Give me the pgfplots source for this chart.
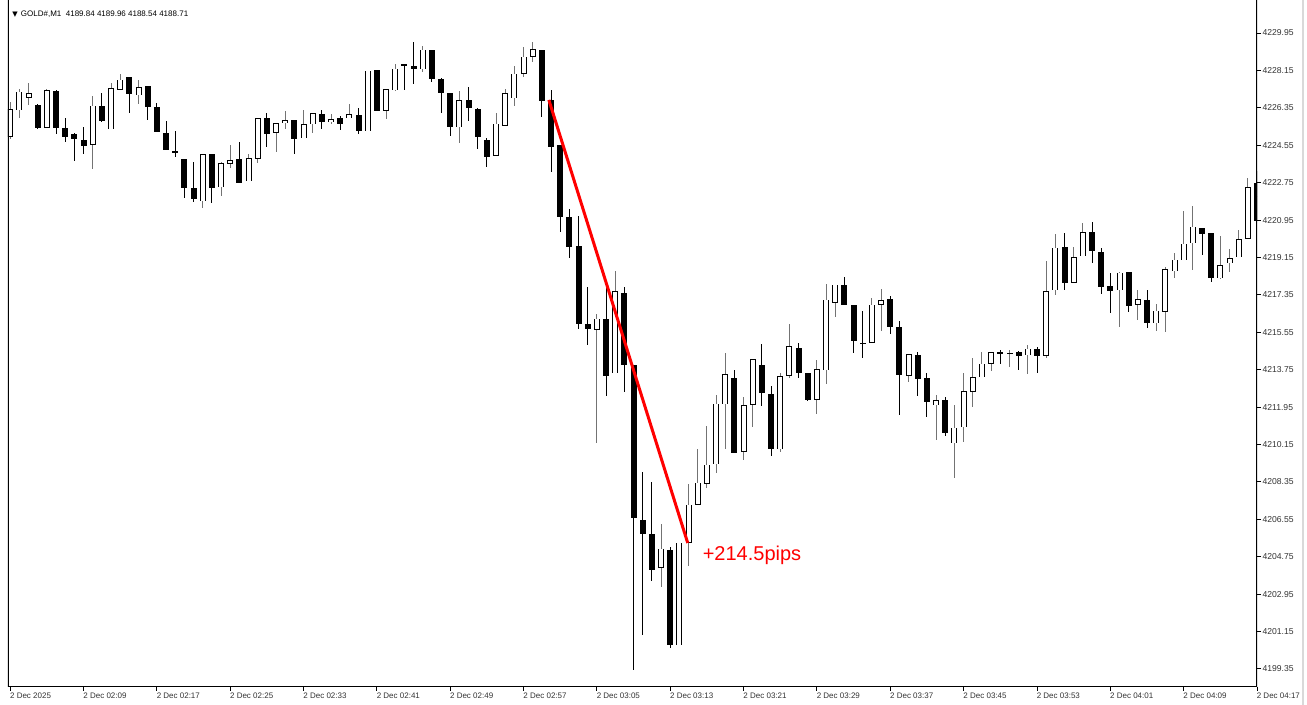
\documentclass[border=0pt]{standalone}
\usepackage{pgfplots}
\pgfplotsset{compat=1.18}
\usepackage{pgfplotstable}
\usepackage{fontspec}
\setmainfont{Liberation Sans}
\newfontfamily\dejavu{DejaVu Sans}

\pgfplotstableread{
t o h l c
0 4224.96 4226.64 4224.88 4226.28
1 4226.24 4227.29 4225.85 4227.13
2 4226.84 4227.58 4226.49 4227.05
3 4226.49 4226.52 4225.33 4225.39
4 4225.39 4227.26 4225.39 4227.19
5 4227.17 4227.21 4225.12 4225.39
6 4225.41 4225.85 4224.72 4224.96
7 4225.08 4225.17 4223.79 4224.84
8 4224.84 4225.44 4224.13 4224.53
9 4224.58 4226.92 4223.44 4226.45
10 4226.47 4227.05 4225.65 4225.75
11 4225.32 4227.56 4225.32 4227.29
12 4227.24 4227.99 4227.21 4227.70
13 4227.83 4227.83 4226.14 4227.03
14 4226.95 4227.69 4226.53 4227.34
15 4227.39 4227.39 4225.76 4226.39
16 4226.39 4226.58 4225.20 4225.20
17 4225.17 4225.72 4224.35 4224.35
18 4224.27 4225.25 4224.00 4224.19
19 4223.87 4223.87 4222.03 4222.51
20 4222.49 4223.76 4221.80 4221.96
21 4221.85 4224.11 4221.56 4224.11
22 4224.14 4224.14 4221.80 4222.51
23 4222.53 4223.76 4222.12 4223.68
24 4223.68 4224.59 4223.44 4223.84
25 4223.92 4224.69 4222.72 4222.72
26 4222.83 4224.13 4222.83 4223.92
27 4223.92 4225.89 4223.68 4225.87
28 4225.85 4226.13 4224.48 4225.08
29 4225.17 4225.63 4224.24 4225.63
30 4225.60 4226.21 4225.33 4225.76
31 4225.75 4225.75 4224.11 4224.85
32 4224.88 4226.24 4224.88 4225.56
33 4225.57 4226.09 4225.12 4226.09
34 4226.04 4226.24 4225.33 4225.65
35 4225.65 4226.09 4225.60 4225.80
36 4225.85 4225.96 4225.28 4225.56
37 4225.85 4226.53 4225.85 4226.04
38 4226.02 4226.36 4225.08 4225.25
39 4225.22 4228.15 4225.22 4228.15
40 4228.18 4228.18 4226.21 4226.21
41 4226.21 4227.24 4225.80 4227.24
42 4227.22 4228.49 4227.16 4228.25
43 4228.44 4228.44 4227.19 4228.36
44 4228.38 4229.53 4227.53 4228.25
45 4228.22 4229.32 4228.09 4229.17
46 4229.13 4229.13 4227.61 4227.77
47 4227.77 4227.78 4226.09 4227.05
48 4227.05 4227.05 4225.01 4225.44
49 4225.41 4227.17 4224.67 4226.71
50 4226.71 4227.34 4225.73 4226.36
51 4226.33 4226.33 4224.37 4224.96
52 4224.80 4224.93 4223.52 4223.98
53 4224.04 4226.12 4224.04 4225.59
54 4225.49 4227.29 4225.49 4227.05
55 4226.81 4228.38 4226.45 4228.01
56 4228.01 4229.29 4227.82 4228.83
57 4228.81 4229.50 4228.57 4229.18
58 4229.15 4229.15 4225.92 4226.69
59 4226.75 4227.22 4223.27 4224.48
60 4224.56 4224.56 4220.36 4221.10
61 4221.10 4221.48 4219.16 4219.68
62 4219.68 4221.15 4215.72 4215.96
63 4215.98 4217.75 4214.93 4215.72
64 4215.69 4216.42 4210.24 4216.22
65 4216.18 4217.75 4212.48 4213.46
66 4213.59 4218.48 4213.59 4217.54
67 4217.43 4217.75 4212.68 4213.97
68 4213.97 4213.97 4199.30 4206.61
69 4206.52 4208.82 4201.00 4205.84
70 4205.84 4208.36 4203.58 4204.13
71 4204.22 4206.34 4203.30 4205.14
72 4205.08 4205.23 4200.35 4200.50
73 4200.50 4205.42 4200.50 4205.42
74 4205.42 4208.27 4204.31 4207.26
75 4207.26 4209.96 4207.26 4208.30
76 4208.27 4211.07 4208.08 4209.19
77 4209.21 4212.53 4208.81 4212.13
78 4212.08 4214.54 4209.93 4213.53
79 4213.38 4213.73 4209.77 4209.77
80 4209.80 4212.42 4209.43 4212.05
81 4212.05 4214.25 4211.00 4214.25
82 4213.97 4214.98 4212.00 4212.61
83 4212.61 4212.98 4209.60 4209.93
84 4209.92 4213.57 4209.80 4213.44
85 4213.48 4215.98 4213.36 4214.89
86 4214.81 4215.05 4213.33 4213.62
87 4213.60 4213.60 4212.24 4212.29
88 4212.32 4214.21 4211.65 4213.78
89 4213.73 4217.90 4213.09 4217.14
90 4216.99 4217.84 4216.30 4217.84
91 4217.82 4218.22 4216.86 4216.86
92 4216.86 4216.86 4214.58 4215.16
93 4215.07 4216.59 4214.30 4214.98
94 4215.05 4217.23 4215.05 4216.89
95 4216.89 4217.66 4215.61 4217.09
96 4217.15 4217.29 4215.50 4215.82
97 4215.80 4216.09 4211.56 4213.49
98 4213.46 4214.49 4213.17 4214.49
99 4214.49 4214.61 4212.48 4213.30
100 4213.36 4213.60 4211.49 4212.21
101 4212.05 4212.53 4210.36 4212.29
102 4212.29 4212.45 4210.57 4210.69
103 4210.23 4212.05 4208.52 4210.97
104 4211.00 4213.62 4210.28 4212.72
105 4212.69 4214.30 4211.97 4213.40
106 4213.38 4214.61 4213.38 4214.05
107 4214.05 4214.61 4213.70 4214.60
108 4214.61 4214.70 4214.05 4214.54
109 4214.54 4214.70 4213.89 4214.58
110 4214.60 4214.66 4213.73 4214.42
111 4214.44 4214.94 4213.57 4214.76
112 4214.76 4214.85 4213.60 4214.41
113 4214.42 4218.98 4214.30 4217.53
114 4217.58 4220.27 4217.37 4219.62
115 4219.65 4220.36 4217.58 4217.93
116 4217.93 4219.67 4217.93 4219.16
117 4219.22 4220.79 4219.22 4220.36
118 4220.36 4220.84 4218.87 4219.47
119 4219.40 4219.59 4217.37 4217.74
120 4217.79 4218.39 4216.51 4217.53
121 4217.58 4218.43 4215.81 4218.43
122 4218.46 4218.46 4216.54 4216.83
123 4216.86 4217.58 4216.14 4217.13
124 4217.10 4217.58 4215.77 4215.98
125 4215.98 4216.91 4215.63 4216.59
126 4216.54 4218.70 4215.58 4218.59
127 4218.50 4219.38 4218.15 4219.06
128 4219.03 4221.38 4219.03 4219.83
129 4219.83 4221.64 4218.55 4220.63
130 4220.60 4220.60 4219.27 4220.28
131 4220.34 4220.34 4217.98 4218.15
132 4218.15 4220.20 4218.15 4218.77
133 4218.87 4219.56 4218.46 4219.11
134 4219.18 4220.47 4219.18 4220.05
135 4220.07 4222.99 4220.07 4222.55
136 4222.72 4223.31 4220.90 4220.90
}\candles

\newcommand\xlbl{\fontsize{4.0}{4.8}\selectfont}
\newcommand\ylbl{\fontsize{4.3}{5.2}\selectfont}

\begin{document}
\begin{tikzpicture}
\path[use as bounding box] (-4pt,-9pt) rectangle (649.5pt,343.5pt);
\begin{axis}[
  at={(0,0)}, anchor=south west,
  scale only axis, width=624.5pt, height=343.5pt,
  xmin=-0.25, xmax=136, ymin=4198.48, ymax=4231.54,
  axis line style={draw=none},
  clip=true,
  tick align=outside,
  major tick length=2pt,
  tick style={black, line width=0.5pt},
  xtick pos=bottom, ytick pos=right,
  yticklabel pos=right,
  xtick={0,8,...,136},
  xticklabels={2 Dec 2025,2 Dec 02:09,2 Dec 02:17,2 Dec 02:25,2 Dec 02:33,2 Dec 02:41,2 Dec 02:49,2 Dec 02:57,2 Dec 03:05,2 Dec 03:13,2 Dec 03:21,2 Dec 03:29,2 Dec 03:37,2 Dec 03:45,2 Dec 03:53,2 Dec 04:01,2 Dec 04:09,2 Dec 04:17},
  ytick={4199.35,4201.15,4202.95,4204.75,4206.55,4208.35,4210.15,4211.95,4213.75,4215.55,4217.35,4219.15,4220.95,4222.75,4224.55,4226.35,4228.15,4229.95},
  yticklabels={4199.35,4201.15,4202.95,4204.75,4206.55,4208.35,4210.15,4211.95,4213.75,4215.55,4217.35,4219.15,4220.95,4222.75,4224.55,4226.35,4228.15,4229.95},
  xticklabel style={font=\xlbl, anchor=north west, inner sep=0pt, yshift=-0.9pt, xshift=-0.3pt, text=black!80},
  yticklabel style={font=\ylbl, anchor=west, inner sep=0pt, xshift=0.6pt, text=black!80},
]
% wicks (bull)
\addplot[draw=none, mark=none, error bars/.cd, y dir=both, y explicit, error mark=none,
  error bar style={draw=black!55, line width=0.5pt}]
  table[x=t, y expr=(\thisrow{h}+\thisrow{l})/2, y error expr={(\thisrow{c}>\thisrow{o})*(\thisrow{h}-\thisrow{l})/2}] {\candles};
% wicks (bear)
\addplot[draw=none, mark=none, error bars/.cd, y dir=both, y explicit, error mark=none,
  error bar style={draw=black, line width=0.5pt}]
  table[x=t, y expr=(\thisrow{h}+\thisrow{l})/2, y error expr={(\thisrow{c}<=\thisrow{o})*(\thisrow{h}-\thisrow{l})/2}] {\candles};
% bodies (outline / filled)
\addplot[draw=none, mark=none, error bars/.cd, y dir=both, y explicit, error mark=none,
  error bar style={draw=black, line width=3pt}]
  table[x=t, y expr=(\thisrow{o}+\thisrow{c})/2, y error expr={max(abs(\thisrow{o}-\thisrow{c})/2,0.025)}] {\candles};
% bodies white inside (bull)
\addplot[draw=none, mark=none, error bars/.cd, y dir=both, y explicit, error mark=none,
  error bar style={draw=white, line width=2pt}]
  table[x=t, y expr=(\thisrow{o}+\thisrow{c})/2, y error expr={(\thisrow{c}>\thisrow{o})*max((\thisrow{c}-\thisrow{o})/2-0.024,0)}] {\candles};
% red trend line
\addplot[red, line width=1.5pt, mark=none] coordinates {(58.75,4226.73) (73.9,4205.41)};
\node[anchor=west, inner sep=0pt, text=red, font=\fontsize{10}{12}\selectfont] at (axis cs:75.5,4204.83) {+214.5pips};
% frame
\draw[black, line width=0.6pt] (rel axis cs:0,1) -- (rel axis cs:0,0) -- (rel axis cs:1,0) -- (rel axis cs:1,1);
\node[anchor=west, inner sep=0pt, font=\xlbl, xshift=2pt, yshift=-7pt] at (rel axis cs:0,1)
  {{\dejavu\fontsize{3.5}{4}\selectfont ▼}\hspace{1.6pt}GOLD\#,M1\ \ 4189.84 4189.96 4188.54 4188.71};
\end{axis}
\draw[black!15, line width=1pt] (647.5pt,-9pt) -- (647.5pt,343.5pt);
\end{tikzpicture}
\end{document}
